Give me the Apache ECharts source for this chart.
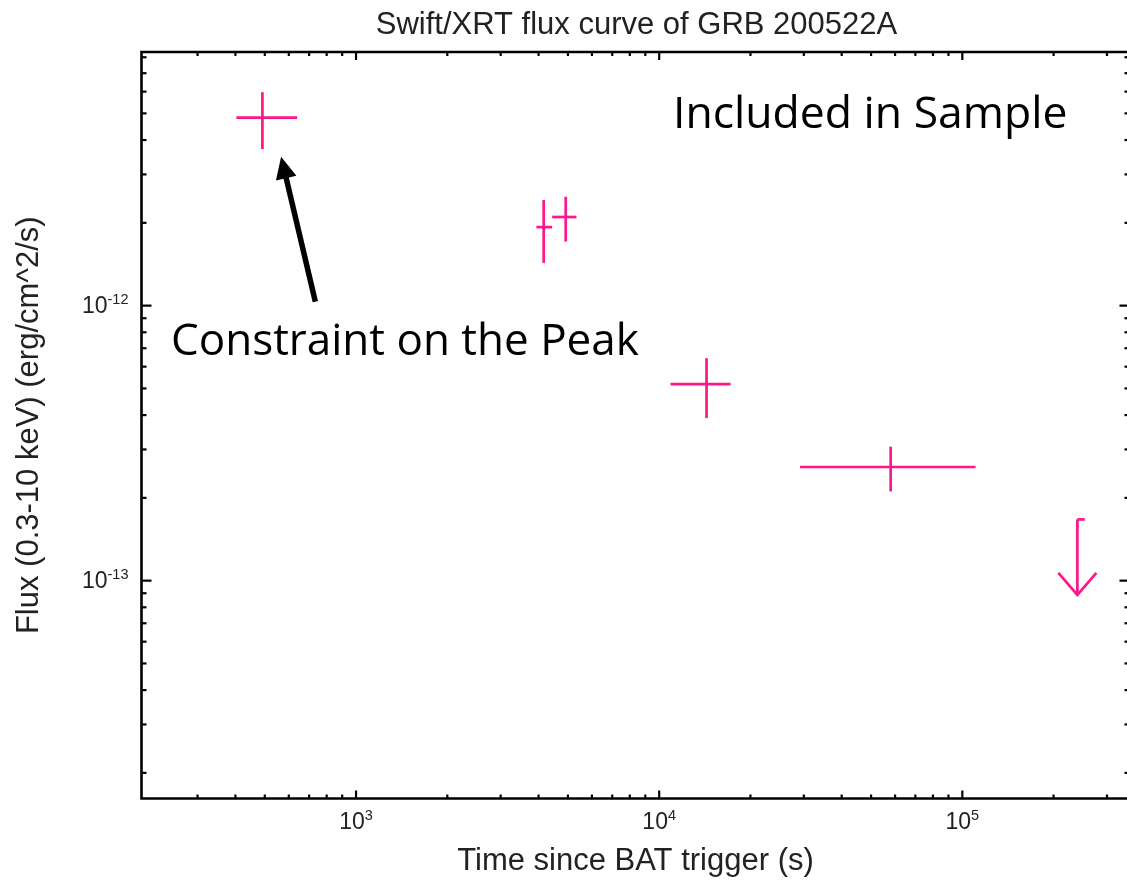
<!DOCTYPE html>
<html>
<head>
<meta charset="utf-8">
<script src="https://cdn.jsdelivr.net/npm/echarts@6/dist/echarts.min.js"></script>
<style>html,body{margin:0;padding:0;background:#fff;}#chart{width:1127px;height:881px;}</style>
</head>
<body>
<div id="chart"></div>
<script>
// ---- Data ----
const titleText = 'Swift/XRT flux curve of GRB 200522A';
const xAxisName = 'Time since BAT trigger (s)';
const yAxisName = 'Flux (0.3-10 keV) (erg/cm^2/s)';
const annotationSample = 'Included in Sample';
const annotationPeak = 'Constraint on the Peak';

// detections: time, timeLow, timeHigh, flux, fluxLow, fluxHigh
const time     = [491,      4159,     4917,     14330,    58020];
const timeLow  = [403,      3936,     4436,     10900,    29130];
const timeHigh = [639,      4436,     5335,     17200,    110600];
const flux     = [4.83e-12, 1.93e-12, 2.10e-12, 5.18e-13, 2.59e-13];
const fluxLow  = [3.71e-12, 1.43e-12, 1.71e-12, 3.90e-13, 2.11e-13];
const fluxHigh = [5.97e-12, 2.42e-12, 2.49e-12, 6.44e-13, 3.07e-13];

// upper limit: time, timeHigh, limit flux, arrow tip flux
const ulTime = [239600];
const ulTimeHigh = [253500];
const ulFlux = [1.67e-13];
const ulTip = [8.87e-14];

// annotation arrow (data coords): tail -> tip
const arrowTail = [734, 1.034e-12];
const arrowTip = [566, 3.48e-12];

// axis ranges and ticks
const xMin = 196, xMax = 356000;
const yMin = 1.614e-14, yMax = 8.36e-12;
const xMajorTicks = [1e3, 1e4, 1e5];
const xMinorTicks = [300,400,500,600,700,800,900, 2000,3000,4000,5000,6000,7000,8000,9000,
  20000,30000,40000,50000,60000,70000,80000,90000, 200000,300000];
const yMajorTicks = [1e-13, 1e-12];
const yMinorTicks = [2e-14,3e-14,4e-14,5e-14,6e-14,7e-14,8e-14,9e-14,
  2e-13,3e-13,4e-13,5e-13,6e-13,7e-13,8e-13,9e-13,
  2e-12,3e-12,4e-12,5e-12,6e-12,7e-12,8e-12];

// ---- Styling ----
const PINK = '#ff168a';
const labelFont = '"Liberation Sans", Arial, Helvetica, sans-serif';
const annoFont = '"Open Sans", "Noto Sans", sans-serif';

const chart = echarts.init(document.getElementById('chart'), null, {renderer: 'canvas'});

function expLabel(v) {
  const e = Math.round(Math.log10(v));
  if (Math.abs(Math.log10(v) - e) > 1e-6) return '';
  return '{b|10}{s|' + e + '}';
}
const richLabel = {
  b: {fontSize: 23, fontFamily: labelFont, color: '#222', lineHeight: 26, verticalAlign: 'bottom'},
  s: {fontSize: 14.5, fontFamily: labelFont, color: '#222', lineHeight: 26, verticalAlign: 'top'}
};

const detData = time.map((t, i) => [t, timeLow[i], timeHigh[i], flux[i], fluxLow[i], fluxHigh[i]]);
const ulData = ulTime.map((t, i) => [t, ulTimeHigh[i], ulFlux[i], ulTip[i]]);
const xTickData = xMajorTicks.map(v => [v, 1e-13, 1]).concat(xMinorTicks.map(v => [v, 1e-13, 0]));
const yTickData = yMajorTicks.map(v => [1000, v, 1]).concat(yMinorTicks.map(v => [1000, v, 0]));

const option = {
  backgroundColor: '#fff',
  animation: false,
  grid: {left: 141.5, width: 988, top: 52, height: 746.5, show: false, outerBoundsMode: 'none', containLabel: false},
  xAxis: {
    type: 'log', logBase: 10, min: xMin, max: xMax,
    name: xAxisName, nameLocation: 'middle', nameGap: 47,
    nameTextStyle: {fontSize: 31, fontFamily: labelFont, color: '#222'},
    axisLine: {show: false}, axisTick: {show: false}, splitLine: {show: false}, minorTick: {show: false},
    axisLabel: {formatter: expLabel, rich: richLabel, margin: 10, showMinLabel: false, showMaxLabel: false}
  },
  yAxis: {
    type: 'log', logBase: 10, min: yMin, max: yMax,
    name: yAxisName, nameLocation: 'middle', nameGap: 97,
    nameTextStyle: {fontSize: 31, fontFamily: labelFont, color: '#222'},
    axisLine: {show: false}, axisTick: {show: false}, splitLine: {show: false},
    axisLabel: {formatter: expLabel, rich: richLabel, margin: 13, showMinLabel: false, showMaxLabel: false}
  },
  graphic: [
    {type: 'text', x: 636.5, y: 25, style: {text: titleText, font: '31px ' + labelFont, fill: '#222', textAlign: 'center', textVerticalAlign: 'middle'}},
    {type: 'text', x: 673, y: 115, style: {text: annotationSample, font: '44.5px ' + annoFont, fill: '#000', textAlign: 'left', textVerticalAlign: 'middle'}},
    {type: 'text', x: 171, y: 342, style: {text: annotationPeak, font: '44px ' + annoFont, fill: '#000', textAlign: 'left', textVerticalAlign: 'middle'}}
  ],
  series: [
    {
      type: 'custom', name: 'frame', silent: true, clip: false, z: 3,
      encode: {x: 0, y: 1},
      data: [[1000, 1e-13]],
      renderItem: function (params, api) {
        const cs = params.coordSys;
        const x0 = cs.x, x1 = cs.x + cs.width, y0 = cs.y, y1 = cs.y + cs.height;
        return {type: 'polyline', shape: {points: [[x1 + 5, y0], [x0, y0], [x0, y1], [x1 + 5, y1]]},
          style: {stroke: '#000', lineWidth: 2.6, fill: null}};
      }
    },
    {
      type: 'custom', name: 'detections', silent: true, clip: false,
      encode: {x: 0, y: 3},
      data: detData,
      renderItem: function (params, api) {
        const c = api.coord([api.value(0), api.value(3)]);
        const l = api.coord([api.value(1), api.value(3)]);
        const r = api.coord([api.value(2), api.value(3)]);
        const lo = api.coord([api.value(0), api.value(4)]);
        const hi = api.coord([api.value(0), api.value(5)]);
        const st = {stroke: PINK, lineWidth: 2.7, fill: null};
        return {type: 'group', children: [
          {type: 'line', shape: {x1: l[0], y1: c[1], x2: r[0], y2: c[1]}, style: st},
          {type: 'line', shape: {x1: c[0], y1: hi[1], x2: c[0], y2: lo[1]}, style: st}
        ]};
      }
    },
    {
      type: 'custom', name: 'upper limit', silent: true, clip: false,
      encode: {x: 0, y: 2},
      data: ulData,
      renderItem: function (params, api) {
        const top = api.coord([api.value(0), api.value(2)]);
        const capR = api.coord([api.value(1), api.value(2)]);
        const tip = api.coord([api.value(0), api.value(3)]);
        const st = {stroke: PINK, lineWidth: 2.7, fill: null};
        return {type: 'group', children: [
          {type: 'line', shape: {x1: top[0], y1: top[1], x2: tip[0], y2: tip[1]}, style: st},
          {type: 'line', shape: {x1: top[0], y1: top[1], x2: capR[0], y2: top[1]}, style: st},
          {type: 'polyline', shape: {points: [[tip[0] - 19, tip[1] - 22], [tip[0], tip[1]], [tip[0] + 19, tip[1] - 22]]}, style: st}
        ]};
      }
    },
    {
      type: 'custom', name: 'arrow', silent: true, clip: false,
      encode: {x: 0, y: 1},
      data: [[arrowTail[0], arrowTail[1], arrowTip[0], arrowTip[1]]],
      renderItem: function (params, api) {
        const a = api.coord([api.value(0), api.value(1)]);
        const b = api.coord([api.value(2), api.value(3)]);
        const dx = b[0] - a[0], dy = b[1] - a[1];
        const len = Math.sqrt(dx * dx + dy * dy);
        const ux = dx / len, uy = dy / len;
        const hl = 22, hw = 10.5;
        const bx = b[0] - ux * hl, by = b[1] - uy * hl;
        return {type: 'group', children: [
          {type: 'line', shape: {x1: a[0], y1: a[1], x2: bx + ux * 2, y2: by + uy * 2}, style: {stroke: '#000', lineWidth: 5.5}},
          {type: 'polygon', shape: {points: [[b[0], b[1]], [bx - uy * hw, by + ux * hw], [bx + uy * hw, by - ux * hw]]}, style: {fill: '#000'}}
        ]};
      }
    },
    {
      type: 'custom', name: 'xticks', silent: true, clip: false,
      encode: {x: 0, y: 1},
      data: xTickData,
      renderItem: function (params, api) {
        const cs = params.coordSys;
        const p = api.coord([api.value(0), api.value(1)]);
        const len = api.value(2) ? 8 : 4;
        const st = {stroke: '#000', lineWidth: 2.2};
        const yb = cs.y + cs.height, yt = cs.y;
        return {type: 'group', children: [
          {type: 'line', shape: {x1: p[0], y1: yb, x2: p[0], y2: yb - len}, style: st},
          {type: 'line', shape: {x1: p[0], y1: yt, x2: p[0], y2: yt + len}, style: st}
        ]};
      }
    },
    {
      type: 'custom', name: 'yticks', silent: true, clip: false,
      encode: {x: 0, y: 1},
      data: yTickData,
      renderItem: function (params, api) {
        const cs = params.coordSys;
        const p = api.coord([api.value(0), api.value(1)]);
        const len = api.value(2) ? 10 : 5;
        const st = {stroke: '#000', lineWidth: 2.2};
        const xl = cs.x, xr = cs.x + cs.width;
        return {type: 'group', children: [
          {type: 'line', shape: {x1: xl, y1: p[1], x2: xl + len, y2: p[1]}, style: st},
          {type: 'line', shape: {x1: xr, y1: p[1], x2: xr - len, y2: p[1]}, style: st}
        ]};
      }
    }
  ]
};
chart.setOption(option);
</script>
</body>
</html>
